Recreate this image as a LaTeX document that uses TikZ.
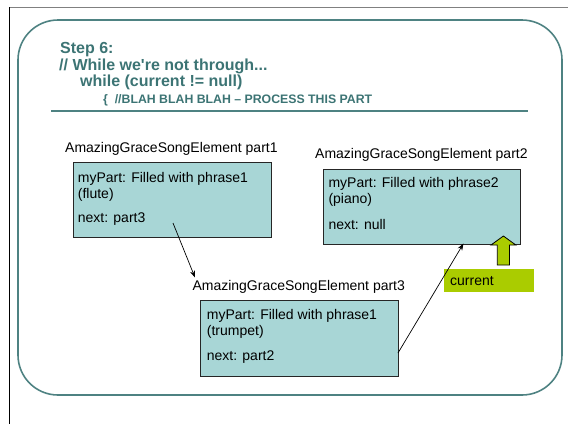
\documentclass[tikz,border=0pt]{standalone}
\usepackage{fontspec}
\setmainfont{Liberation Sans}
\usetikzlibrary{arrows.meta,calc}
\definecolor{frameteal}{RGB}{78,130,130}
\definecolor{titleteal}{RGB}{60,116,116}
\definecolor{boxfill}{RGB}{168,214,214}
\definecolor{curgreen}{RGB}{170,204,0}
\begin{document}
\begin{tikzpicture}[x=1pt,y=-1pt,
  elembox/.style={draw=black!85, line width=0.9pt, fill=boxfill, anchor=north west, inner sep=0pt},
  txt/.style={anchor=base west, inner sep=0pt, font=\fontsize{14}{16}\selectfont},
  ttl/.style={anchor=base west, inner sep=0pt, text=titleteal, font=\bfseries\fontsize{16}{18}\selectfont},
  ttlsmall/.style={ttl, font=\bfseries\fontsize{12.3}{14}\selectfont},
  link/.style={draw=black, line width=0.7pt, -{Stealth[length=7pt,width=5pt]}},
  curbox/.style={fill=curgreen, anchor=north west, inner sep=0pt, minimum width=90pt, minimum height=23pt}
]
\useasboundingbox (0,0) rectangle (568,424);
% slide border
\draw[gray, line width=1.5pt] (9,7.5) -- (568,7.5);
\draw[black, line width=1pt] (9,7) -- (9,424);
\draw[frameteal, line width=1.6pt, rounded corners=40pt] (18,20) rectangle (562,395);
\draw[frameteal, line width=2pt] (51,111) -- (528,111);
% title
\node[ttl] (t1) at (60,53.5) {Step 6:};
\node[ttl] (t2) at (59,70) {// While we\textquotesingle re not through...};
\node[ttl] (t3) at (80,86.5) {while (current != null)};
\node[ttlsmall] (t4) at (103,103) {\{\ \ //BLAH BLAH BLAH – PROCESS THIS PART};
% part1
\node[txt] (p1l) at (65,152.7) {AmazingGraceSongElement part1};
\node[elembox, minimum width=198pt, minimum height=75pt] (p1) at (73,162) {};
\node[txt] (p1a) at (77.7,182) {myPart: Filled with phrase1};
\node[txt] (p1b) at (77.7,198.5) {(flute)};
\node[txt] (p1c) at (77.7,222.7) {next: part3};
% part2
\node[txt] (p2l) at (315,158.3) {AmazingGraceSongElement part2};
\node[elembox, minimum width=197pt, minimum height=75pt] (p2) at (323,169) {};
\node[txt] (p2a) at (328.3,187) {myPart: Filled with phrase2};
\node[txt] (p2b) at (328.3,203.5) {(piano)};
\node[txt] (p2c) at (328.3,229) {next: null};
% part3
\node[txt] (p3l) at (192.3,290) {AmazingGraceSongElement part3};
\node[elembox, minimum width=198pt, minimum height=76pt] (p3) at (200,300) {};
\node[txt] (p3a) at (206.7,319.3) {myPart: Filled with phrase1};
\node[txt] (p3b) at (206.7,335.5) {(trumpet)};
\node[txt] (p3c) at (206.7,360.5) {next: part2};
% current
\node[curbox] (cur) at (444,269) {};
\node[txt] (curt) at (450,285.5) {current};
\filldraw[fill=curgreen, draw=black, line width=0.8pt]
  (497.3,265) -- (497.3,245) -- (491,245) -- (503.4,236) -- (515.8,245) -- (509.5,245) -- (509.5,265) -- cycle;
% links
\coordinate (p1next) at (173,223);
\coordinate (p3in) at (195,277.5);
\coordinate (p3next) at (398,353);
\coordinate (p2in) at (463.5,243.5);
\draw[link] (p1next) -- (p3in);
\draw[link] (p3next) -- (p2in);
\end{tikzpicture}
\end{document}
